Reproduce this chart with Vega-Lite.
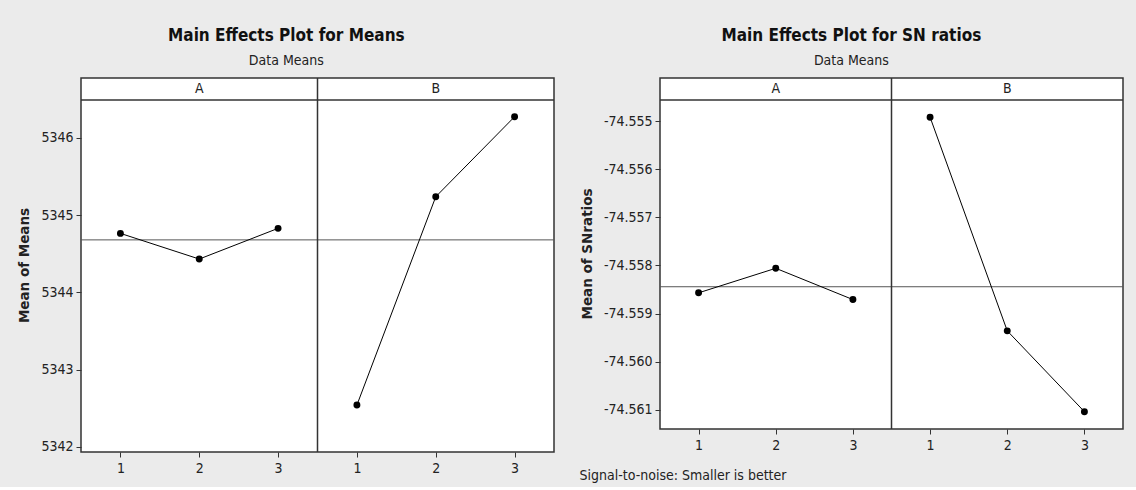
{
  "$schema": "https://vega.github.io/schema/vega-lite/v6.json",
  "background": "#ebebeb",
  "padding": {"left": 17, "top": 26, "right": 14, "bottom": 4},
  "datasets": {
    "means": [
      {"factor": "A", "level": 1, "mean": 5344.763},
      {"factor": "A", "level": 2, "mean": 5344.431},
      {"factor": "A", "level": 3, "mean": 5344.828},
      {"factor": "B", "level": 1, "mean": 5342.542},
      {"factor": "B", "level": 2, "mean": 5345.237},
      {"factor": "B", "level": 3, "mean": 5346.272}
    ],
    "sn": [
      {"factor": "A", "level": 1, "mean": -74.55857},
      {"factor": "A", "level": 2, "mean": -74.55806},
      {"factor": "A", "level": 3, "mean": -74.55871},
      {"factor": "B", "level": 1, "mean": -74.55492},
      {"factor": "B", "level": 2, "mean": -74.55936},
      {"factor": "B", "level": 3, "mean": -74.56104}
    ],
    "headers": [
      {"factor": "A", "level": 2},
      {"factor": "B", "level": 2}
    ],
    "one": [{}]
  },
  "spacing": 22,
  "hconcat": [
    {
      "width": 473,
      "height": 374,
      "title": {"text": "Main Effects Plot for Means", "subtitle": "Data Means", "frame": "bounds", "anchor": "middle"},
      "layer": [
        {
          "data": {"name": "means"},
          "mark": {"type": "rule", "color": "#555", "strokeWidth": 1},
          "encoding": {"y": {"aggregate": "mean", "field": "mean", "type": "quantitative"}}
        },
        {
          "data": {"name": "one"},
          "mark": {"type": "rule", "color": "#333", "strokeWidth": 1.5},
          "encoding": {"y": {"datum": 5346.49, "type": "quantitative"}}
        },
        {
          "data": {"name": "one"},
          "mark": {"type": "rule", "color": "#333", "strokeWidth": 1.5},
          "encoding": {"x": {"datum": 3.5, "type": "quantitative"}}
        },
        {
          "data": {"name": "headers"},
          "transform": [{"calculate": "datum.level + (datum.factor === 'B' ? 3 : 0)", "as": "pos"}],
          "mark": {"type": "text", "font": "DejaVu Sans Condensed, Roboto, sans-serif", "fontSize": 14, "color": "#222", "baseline": "middle"},
          "encoding": {
            "x": {"field": "pos", "type": "quantitative"},
            "y": {"datum": 5346.63, "type": "quantitative"},
            "text": {"field": "factor"}
          }
        },
        {
          "data": {"name": "means"},
          "transform": [{"calculate": "datum.level + (datum.factor === 'B' ? 3 : 0)", "as": "pos"}],
          "mark": {"type": "line", "color": "#000", "strokeWidth": 1},
          "encoding": {
            "x": {"field": "pos", "type": "quantitative", "scale": {"domain": [0.5, 6.5], "nice": false, "zero": false},
                  "axis": {"values": [1, 2, 3, 4, 5, 6], "labelExpr": "datum.value > 3 ? datum.value - 3 : datum.value", "title": null}},
            "y": {"field": "mean", "type": "quantitative", "scale": {"domain": [5341.935, 5346.773], "nice": false, "zero": false},
                  "axis": {"values": [5342, 5343, 5344, 5345, 5346], "format": "d", "title": "Mean of Means"}},
            "detail": {"field": "factor"}
          }
        },
        {
          "data": {"name": "means"},
          "transform": [{"calculate": "datum.level + (datum.factor === 'B' ? 3 : 0)", "as": "pos"}],
          "mark": {"type": "point", "filled": true, "color": "#000", "size": 48, "opacity": 1},
          "encoding": {
            "x": {"field": "pos", "type": "quantitative"},
            "y": {"field": "mean", "type": "quantitative"}
          }
        }
      ]
    },
    {
      "width": 463,
      "height": 351,
      "title": {"text": "Main Effects Plot for SN ratios", "subtitle": "Data Means", "frame": "bounds", "anchor": "middle"},
      "layer": [
        {
          "data": {"name": "sn"},
          "mark": {"type": "rule", "color": "#555", "strokeWidth": 1},
          "encoding": {"y": {"aggregate": "mean", "field": "mean", "type": "quantitative"}}
        },
        {
          "data": {"name": "one"},
          "mark": {"type": "rule", "color": "#333", "strokeWidth": 1.5},
          "encoding": {"y": {"datum": -74.55456, "type": "quantitative"}}
        },
        {
          "data": {"name": "one"},
          "mark": {"type": "rule", "color": "#333", "strokeWidth": 1.5},
          "encoding": {"x": {"datum": 3.5, "type": "quantitative"}}
        },
        {
          "data": {"name": "headers"},
          "transform": [{"calculate": "datum.level + (datum.factor === 'B' ? 3 : 0)", "as": "pos"}],
          "mark": {"type": "text", "font": "DejaVu Sans Condensed, Roboto, sans-serif", "fontSize": 14, "color": "#222", "baseline": "middle"},
          "encoding": {
            "x": {"field": "pos", "type": "quantitative"},
            "y": {"datum": -74.55433, "type": "quantitative"},
            "text": {"field": "factor"}
          }
        },
        {
          "data": {"name": "sn"},
          "transform": [{"calculate": "datum.level + (datum.factor === 'B' ? 3 : 0)", "as": "pos"}],
          "mark": {"type": "line", "color": "#000", "strokeWidth": 1},
          "encoding": {
            "x": {"field": "pos", "type": "quantitative", "scale": {"domain": [0.5, 6.5], "nice": false, "zero": false},
                  "axis": {"values": [1, 2, 3, 4, 5, 6], "labelExpr": "datum.value > 3 ? datum.value - 3 : datum.value",
                           "title": "Signal-to-noise: Smaller is better", "titleAnchor": "start", "titleX": -81, "titleY": 50,
                           "titleBaseline": "alphabetic", "titleFont": "DejaVu Sans Condensed, Roboto, sans-serif", "titleFontWeight": "normal",
                           "titleFontSize": 14, "titleColor": "#222"}},
            "y": {"field": "mean", "type": "quantitative", "scale": {"domain": [-74.5614, -74.554105], "nice": false, "zero": false},
                  "axis": {"values": [-74.561, -74.56, -74.559, -74.558, -74.557, -74.556, -74.555],
                           "labelExpr": "replace(format(datum.value, '.3f'), '\u2212', '-')", "title": "Mean of SNratios"}},
            "detail": {"field": "factor"}
          }
        },
        {
          "data": {"name": "sn"},
          "transform": [{"calculate": "datum.level + (datum.factor === 'B' ? 3 : 0)", "as": "pos"}],
          "mark": {"type": "point", "filled": true, "color": "#000", "size": 48, "opacity": 1},
          "encoding": {
            "x": {"field": "pos", "type": "quantitative"},
            "y": {"field": "mean", "type": "quantitative"}
          }
        }
      ]
    }
  ],
  "config": {
    "view": {"fill": "white", "stroke": "#333", "strokeWidth": 1.5},
    "title": {"font": "DejaVu Sans Condensed, Roboto, sans-serif", "fontWeight": "bold", "fontSize": 17, "color": "#111",
              "subtitleFont": "DejaVu Sans Condensed, Roboto, sans-serif", "subtitleFontSize": 14, "subtitleColor": "#222",
              "subtitlePadding": 9, "offset": 8},
    "axis": {"grid": false, "domain": false, "tickColor": "#333", "tickSize": 5, "tickWidth": 1,
             "labelFont": "DejaVu Sans Condensed, Roboto, sans-serif", "labelFontSize": 14, "labelColor": "#222", "labelPadding": 3,
             "titleFont": "DejaVu Sans", "titleFontWeight": "bold", "titleFontSize": 13.5, "titleColor": "#222"},
    "axisY": {"titlePadding": 9},
    "axisX": {"labelPadding": 4}
  }
}
